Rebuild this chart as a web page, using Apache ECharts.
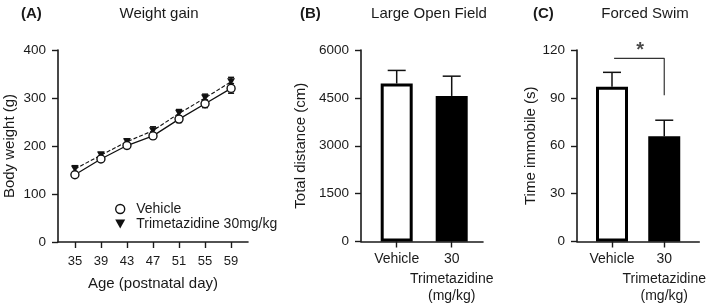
<!DOCTYPE html>
<html><head><meta charset="utf-8">
<script src="https://cdn.jsdelivr.net/npm/echarts@6/dist/echarts.min.js"></script>
<style>html,body{margin:0;padding:0;background:#fff}#c{width:709px;height:305px}</style>
</head><body><div id="c"></div>
<script>
// ---- data ----
const ageDays = [35, 39, 43, 47, 51, 55, 59];
const vehicleWeight = [140, 173, 201, 221, 256, 288, 320];
const vehicleWeightErr = [5, 5, 6, 6, 7, 8, 10];
const tmzWeight = [152, 181, 209, 232, 268, 300, 334];
const tmzWeightErr = [7, 6, 6, 8, 8, 8, 9];
const barCategoryLine1 = ['Vehicle', '30'];
const barCategoryLine2 = ['', 'Trimetazidine\n(mg/kg)'];
const barPositions = [1, 2];
const openFieldMean = [4950, 4560];
const openFieldErr = [410, 620];
const swimMean = [97, 66];
const swimErr = [9, 10];
const sigBracketX = [1.04, 2, 2];
const sigBracketY = [114.8, 114.8, 91.7];
const sigStar = [1.54, 114.8];

const FONT = 'Liberation Sans, Arial, sans-serif';
const TXT = '#1a1a1a';
const AX = '#1a1a1a';

function yAxisCfg(gridIndex, max, interval, name, nameGap) {
  return {
    gridIndex, type: 'value', min: 0, max, interval, name, nameGap,
    nameLocation: 'middle',
    nameTextStyle: {fontFamily: FONT, fontSize: 15, color: TXT},
    axisLine: {show: true, lineStyle: {color: AX, width: 1.6}},
    axisTick: {show: true, length: 6, lineStyle: {color: AX, width: 1.4}},
    axisLabel: {fontFamily: FONT, fontSize: 13.5, color: TXT, margin: 12, formatter: v => String(v)},
    splitLine: {show: false}
  };
}
function barXAxis(gridIndex, min, max) {
  return {
    gridIndex, type: 'value', min, max, position: 'bottom',
    axisLine: {show: true, onZero: false, lineStyle: {color: AX, width: 1.6}},
    axisTick: {show: true, length: 6, customValues: barPositions, lineStyle: {color: AX, width: 1.4}},
    axisLabel: {
      customValues: barPositions, fontFamily: FONT, fontSize: 14, color: TXT, margin: 11,
      formatter: v => barCategoryLine1[Math.round(v) - 1]
    },
    splitLine: {show: false}
  };
}
function barSubAxis(gridIndex, min, max) {
  return {
    gridIndex, type: 'value', min, max, position: 'bottom',
    axisLine: {show: false, onZero: false}, axisTick: {show: false}, splitLine: {show: false},
    axisLabel: {
      customValues: [barPositions[1]], fontFamily: FONT, fontSize: 14, color: TXT,
      margin: 28.5, lineHeight: 17.5,
      formatter: v => barCategoryLine2[Math.round(v) - 1]
    }
  };
}
function pts(xs, ys) { return xs.map((x, i) => [x, ys[i]]); }
function errData(xs, ys, es, upOnly) {
  return xs.map((x, i) => [x, upOnly ? ys[i] : ys[i] - es[i], ys[i] + es[i]]);
}
function errSeries(xIdx, yIdx, data, capHalf, bottomCap) {
  return {
    type: 'custom', xAxisIndex: xIdx, yAxisIndex: yIdx, z: 1, silent: true,
    data,
    renderItem(params, api) {
      const x = api.value(0);
      const lo = api.coord([x, api.value(1)]);
      const hi = api.coord([x, api.value(2)]);
      const st = {stroke: '#111', lineWidth: 1.5};
      const children = [
        {type: 'line', shape: {x1: lo[0], y1: lo[1], x2: hi[0], y2: hi[1]}, style: st},
        {type: 'line', shape: {x1: hi[0] - capHalf, y1: hi[1], x2: hi[0] + capHalf, y2: hi[1]}, style: st}
      ];
      if (bottomCap) children.push({type: 'line', shape: {x1: lo[0] - capHalf, y1: lo[1], x2: lo[0] + capHalf, y2: lo[1]}, style: st});
      return {type: 'group', children};
    }
  };
}

const triDown = 'path://M0,0 L10,0 L5,9 Z';

const option = {
  backgroundColor: '#fff',
  animation: false,
  title: [
    {text: '(A)', left: 16, top: 1, textStyle: {fontFamily: FONT, fontSize: 15, fontWeight: 'bold', color: TXT}},
    {text: 'Weight gain', left: 154, top: 1, textAlign: 'center', textStyle: {fontFamily: FONT, fontSize: 15, fontWeight: 'normal', color: TXT}},
    {text: '(B)', left: 295, top: 1, textStyle: {fontFamily: FONT, fontSize: 15, fontWeight: 'bold', color: TXT}},
    {text: 'Large Open Field', left: 424, top: 1, textAlign: 'center', textStyle: {fontFamily: FONT, fontSize: 15, fontWeight: 'normal', color: TXT}},
    {text: '(C)', left: 528, top: 1, textStyle: {fontFamily: FONT, fontSize: 15, fontWeight: 'bold', color: TXT}},
    {text: 'Forced Swim', left: 640, top: 1, textAlign: 'center', textStyle: {fontFamily: FONT, fontSize: 15, fontWeight: 'normal', color: TXT}}
  ],
  legend: {
    left: 110, top: 197, orient: 'vertical', itemGap: 1,
    itemWidth: 10, itemHeight: 9,
    textStyle: {fontFamily: FONT, fontSize: 14, color: TXT, padding: [0, 0, 0, 6]},
    data: [
      {name: 'Vehicle', icon: 'circle', itemStyle: {color: '#fff', borderColor: '#111', borderWidth: 1.4}},
      {name: 'Trimetazidine 30mg/kg', icon: triDown, itemStyle: {color: '#111', borderWidth: 0}}
    ]
  },
  grid: [
    {left: 58, top: 50, width: 190, height: 192},
    {left: 361, top: 50, width: 122, height: 192},
    {left: 577, top: 50, width: 126, height: 192}
  ],
  xAxis: [
    {
      gridIndex: 0, type: 'value', min: 32.4, max: 61.6,
      name: 'Age (postnatal day)', nameLocation: 'middle', nameGap: 34,
      nameTextStyle: {fontFamily: FONT, fontSize: 15, color: TXT},
      axisLine: {show: true, onZero: false, lineStyle: {color: AX, width: 1.6}},
      axisTick: {show: true, length: 6, customValues: ageDays, lineStyle: {color: AX, width: 1.4}},
      axisLabel: {customValues: ageDays, fontFamily: FONT, fontSize: 13, color: TXT, margin: 13},
      splitLine: {show: false}
    },
    barXAxis(1, 0.351, 2.569),
    barXAxis(2, 0.33, 2.67),
    barSubAxis(1, 0.351, 2.569),
    barSubAxis(2, 0.33, 2.67)
  ],
  yAxis: [
    yAxisCfg(0, 400, 100, 'Body weight (g)', 41),
    yAxisCfg(1, 6000, 1500, 'Total distance (cm)', 53),
    yAxisCfg(2, 120, 30, 'Time immobile (s)', 38)
  ],
  series: [
    errSeries(0, 0, errData(ageDays, vehicleWeight, vehicleWeightErr, false), 3, true),
    errSeries(0, 0, errData(ageDays, tmzWeight, tmzWeightErr, false), 3, true),
    {
      name: 'Vehicle', type: 'line', xAxisIndex: 0, yAxisIndex: 0, z: 3,
      data: pts(ageDays, vehicleWeight),
      symbol: 'circle', symbolSize: 8,
      lineStyle: {color: '#111', width: 1.3},
      itemStyle: {color: '#fff', borderColor: '#111', borderWidth: 1.4}
    },
    {
      name: 'Trimetazidine 30mg/kg', type: 'line', xAxisIndex: 0, yAxisIndex: 0, z: 2,
      data: pts(ageDays, tmzWeight),
      symbol: triDown, symbolSize: [8, 7],
      lineStyle: {color: '#111', width: 1.1, type: [4, 2]},
      itemStyle: {color: '#111', borderWidth: 0}
    },
    {
      type: 'bar', xAxisIndex: 1, yAxisIndex: 1, barWidth: 32, z: 2,
      data: [
        {value: [barPositions[0], openFieldMean[0]], itemStyle: {color: '#fff'}},
        {value: [barPositions[1], openFieldMean[1]], itemStyle: {color: '#000'}}
      ],
      itemStyle: {borderColor: '#000', borderWidth: 3}
    },
    errSeries(1, 1, errData(barPositions, openFieldMean, openFieldErr, true), 9, false),
    {
      type: 'bar', xAxisIndex: 2, yAxisIndex: 2, barWidth: 32, z: 2,
      data: [
        {value: [barPositions[0], swimMean[0]], itemStyle: {color: '#fff'}},
        {value: [barPositions[1], swimMean[1]], itemStyle: {color: '#000'}}
      ],
      itemStyle: {borderColor: '#000', borderWidth: 3}
    },
    errSeries(2, 2, errData(barPositions, swimMean, swimErr, true), 9, false),
    {
      type: 'line', xAxisIndex: 2, yAxisIndex: 2, symbol: 'none', silent: true,
      data: pts(sigBracketX, sigBracketY),
      lineStyle: {color: '#333', width: 1.2}
    },
    {
      type: 'scatter', xAxisIndex: 2, yAxisIndex: 2, symbolSize: 0, clip: false, silent: true,
      data: [sigStar],
      label: {show: true, position: 'top', distance: -2, formatter: '*', fontFamily: FONT, fontSize: 20, fontWeight: 'bold', color: TXT}
    }
  ]
};
echarts.init(document.getElementById('c'), null, {renderer: 'canvas'}).setOption(option);
</script></body></html>
